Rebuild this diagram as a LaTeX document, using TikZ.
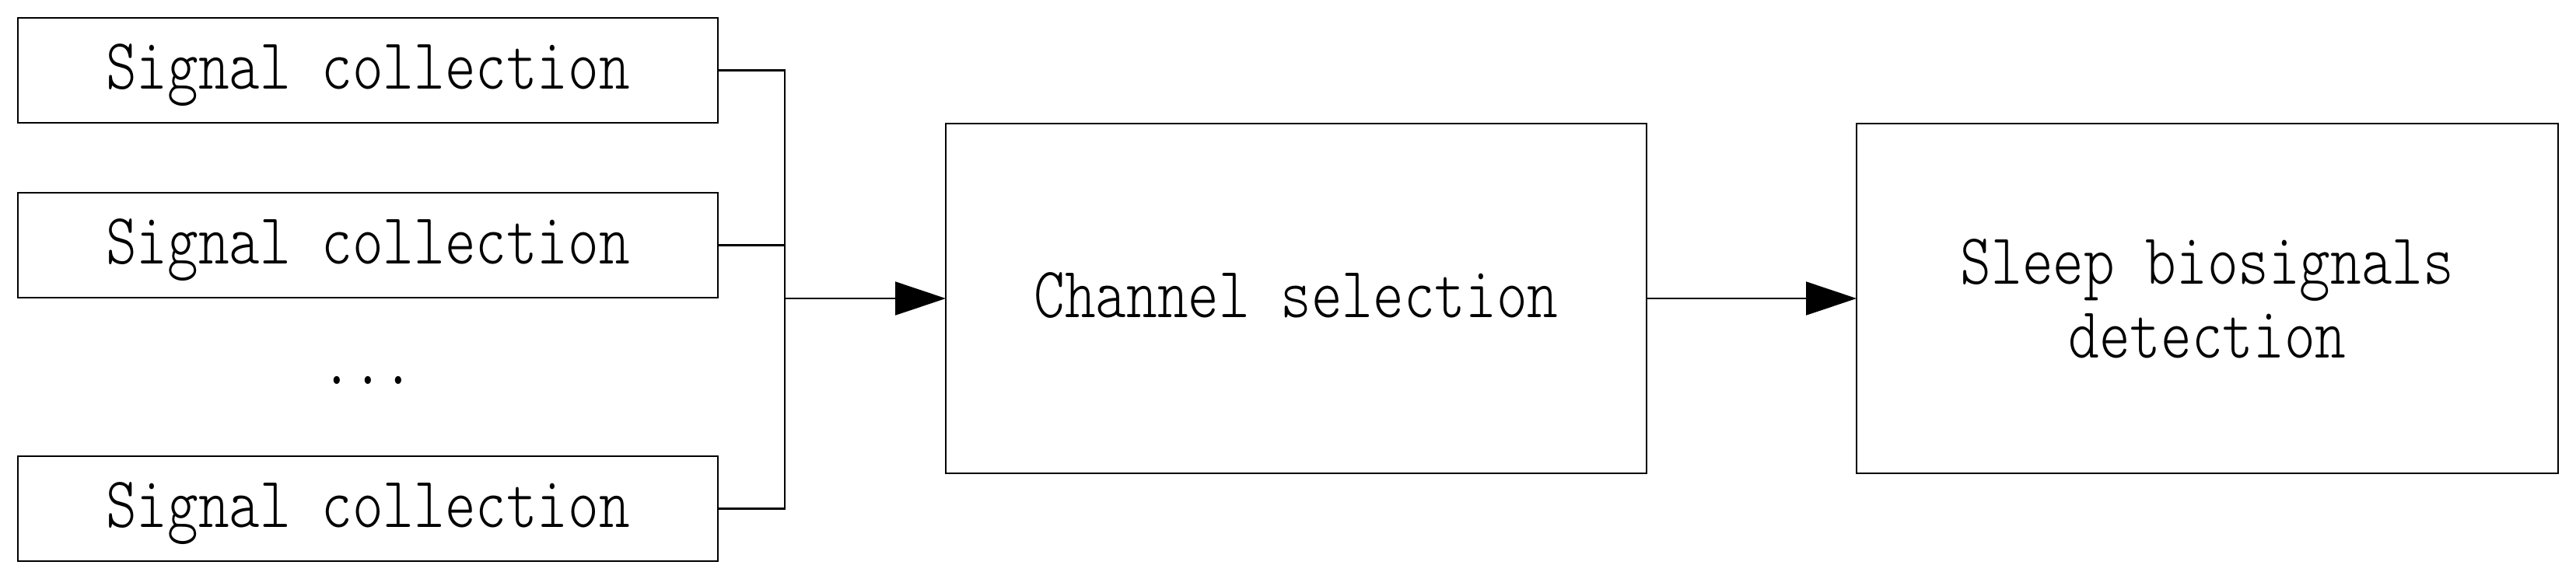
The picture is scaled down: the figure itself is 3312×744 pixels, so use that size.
\documentclass[tikz,border=0pt]{standalone}
\usepackage{graphicx}
\usepackage{fontspec}
\newfontfamily\lmmlight{lmmonolt10-regular.otf}
\usetikzlibrary{arrows.meta}
\newcommand{\sxt}[1]{\scalebox{0.81}[1]{#1}}
\newcommand{\diagfont}{\fontsize{23.3}{23.75}\selectfont\lmmlight}
\begin{document}
\begin{tikzpicture}[x=0.25pt,y=-0.25pt,
  box/.style={draw, line width=0.55pt, outer sep=0pt, inner sep=0pt, font=\diagfont},
  smallbox/.style={box, minimum width=225pt, minimum height=33.75pt, text height=14.25pt, text depth=2.25pt},
  bigbox/.style={box, minimum width=225.25pt, minimum height=112.5pt},
  conn/.style={line width=0.55pt},
  arr/.style={conn, -{Triangle[length=16.25pt,width=10.75pt]}}]
\fill[white] (0,0) rectangle (3312,744);
\useasboundingbox (0,0) rectangle (3312,744);
\node[smallbox] (sc1) at (473,90.5) {\sxt{Signal collection}};
\node[smallbox] (sc2) at (473,315.5) {\sxt{Signal collection}};
\node[smallbox] (sc3) at (473,654.5) {\sxt{Signal collection}};
\node[font=\diagfont, inner sep=0pt, anchor=base] (dots) at (473,494) {\sxt{...}};
\node[bigbox, text height=14.25pt, text depth=2.25pt] (ch) at (1666.5,384) {\sxt{Channel selection}};
\node[bigbox, minimum width=225.5pt, align=center] (sd) at (2838,384) {\sxt{Sleep biosignals}\\\sxt{detection}};
\coordinate (jt) at (1009,90.5);
\coordinate (jb) at (1009,654.5);
\draw[conn] (sc1.east) -- (jt) -- (jb) -- (sc3.east);
\draw[conn] (sc2.east) -- (sc2.east -| jt);
\draw[arr] (jt |- ch.west) -- (ch.west);
\draw[arr] (ch.east) -- (sd.west);
\end{tikzpicture}
\end{document}
